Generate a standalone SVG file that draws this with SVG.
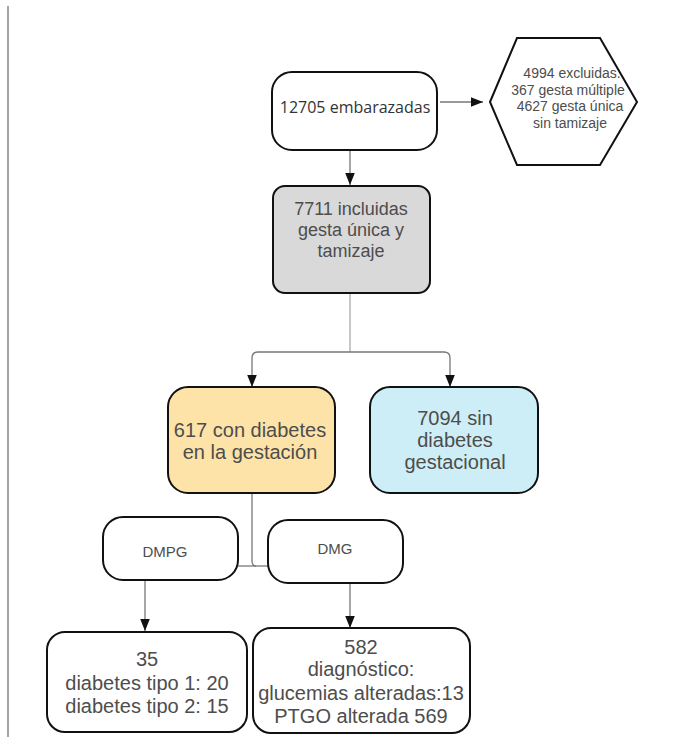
<svg xmlns="http://www.w3.org/2000/svg" width="696" height="737" viewBox="0 0 696 737">
<style>
.box{stroke:#111;stroke-width:2;}
.t{font-family:"Liberation Sans",Arial,sans-serif;fill:#4d4d4d;text-anchor:middle;}
.c{fill:none;stroke:#777;stroke-width:1.3;}
</style>
<defs>
<marker id="ah2" viewBox="0 0 10 10" refX="10" refY="5" markerWidth="12" markerHeight="12" markerUnits="userSpaceOnUse" orient="auto">
<path d="M0,1 L10,5 L0,9 z" fill="#111"/>
</marker>
</defs>
<rect width="696" height="737" fill="#fff"/>
<line x1="8" y1="6" x2="8" y2="737" stroke="#666" stroke-width="1.2"/>

<g id="connectors">
<line class="c" x1="440" y1="102" x2="483" y2="102" marker-end="url(#ah2)"/>
<line class="c" x1="350" y1="150" x2="350" y2="185" marker-end="url(#ah2)"/>
<path class="c" d="M350,293 V352" style="stroke:#aaa"/>
<path class="c" d="M350,352 H258 Q252,352 252,358 V387" marker-end="url(#ah2)"/>
<path class="c" d="M350,352 H444 Q450,352 450,358 V387" marker-end="url(#ah2)"/>
<path class="c" d="M252,493 V561 Q252,566 256,566"/>
<line class="c" x1="238" y1="566" x2="268" y2="566"/>
<line class="c" x1="145" y1="580" x2="145" y2="631" marker-end="url(#ah2)"/>
<line class="c" x1="350" y1="583" x2="350" y2="628" marker-end="url(#ah2)"/>
</g>

<g id="n-embarazadas">
<rect class="box" x="272" y="72" width="165" height="78" rx="20" fill="#fff"/>
<text x="355" y="113" style="font-family:'Open Sans','Liberation Sans',sans-serif;font-size:16px;fill:#333;text-anchor:middle">12705 embarazadas</text>
</g>

<g id="n-excluidas">
<polygon class="box" points="490,102 517,38 600,38 637,102 600,165 517,165" fill="#fff"/>
<text class="t" style="font-size:14px" x="572" y="78">4994 excluidas.</text>
<text class="t" style="font-size:14px" x="568" y="95">367 gesta múltiple</text>
<text class="t" style="font-size:14px" x="570" y="111">4627 gesta única</text>
<text class="t" style="font-size:14px" x="570" y="128">sin tamizaje</text>
</g>

<g id="n-incluidas">
<rect class="box" x="273" y="186" width="157" height="107" rx="12" fill="#d9d9d9"/>
<text class="t" style="font-size:18px" x="351" y="215">7711 incluidas</text>
<text class="t" style="font-size:18px" x="351" y="236">gesta única y</text>
<text class="t" style="font-size:18px" x="351" y="257">tamizaje</text>
</g>

<g id="n-con-diabetes">
<rect class="box" x="168" y="387" width="167" height="106" rx="20" fill="#fde3a7"/>
<text class="t" style="font-size:20px" x="250" y="437">617 con diabetes</text>
<text class="t" style="font-size:20px" x="250" y="459">en la gestación</text>
</g>

<g id="n-sin-diabetes">
<rect class="box" x="370" y="387" width="168" height="106" rx="20" fill="#cdeef6"/>
<text class="t" style="font-size:20px" x="455" y="425">7094 sin</text>
<text class="t" style="font-size:20px" x="455" y="447">diabetes</text>
<text class="t" style="font-size:20px" x="455" y="469">gestacional</text>
</g>

<g id="n-dmpg">
<rect class="box" x="103" y="517" width="135" height="63" rx="20" fill="#fff"/>
<text class="t" style="font-size:15px" x="165" y="557">DMPG</text>
</g>

<g id="n-dmg">
<rect class="box" x="268" y="520" width="135" height="63" rx="20" fill="#fff"/>
<text class="t" style="font-size:15px" x="335" y="554">DMG</text>
</g>

<g id="n-35">
<rect class="box" x="47" y="632" width="200" height="100" rx="18" fill="#fff"/>
<text class="t" style="font-size:20px" x="147" y="666">35</text>
<text class="t" style="font-size:20px" x="147" y="690">diabetes tipo 1: 20</text>
<text class="t" style="font-size:20px" x="147" y="713">diabetes tipo 2: 15</text>
</g>

<g id="n-582">
<rect class="box" x="253" y="628" width="217" height="105" rx="18" fill="#fff"/>
<text class="t" style="font-size:20px" x="361" y="654">582</text>
<text class="t" style="font-size:20px" x="361" y="676">diagnóstico:</text>
<text class="t" style="font-size:20px" x="361" y="700">glucemias alteradas:13</text>
<text class="t" style="font-size:20px" x="361" y="723">PTGO alterada 569</text>
</g>
</svg>
